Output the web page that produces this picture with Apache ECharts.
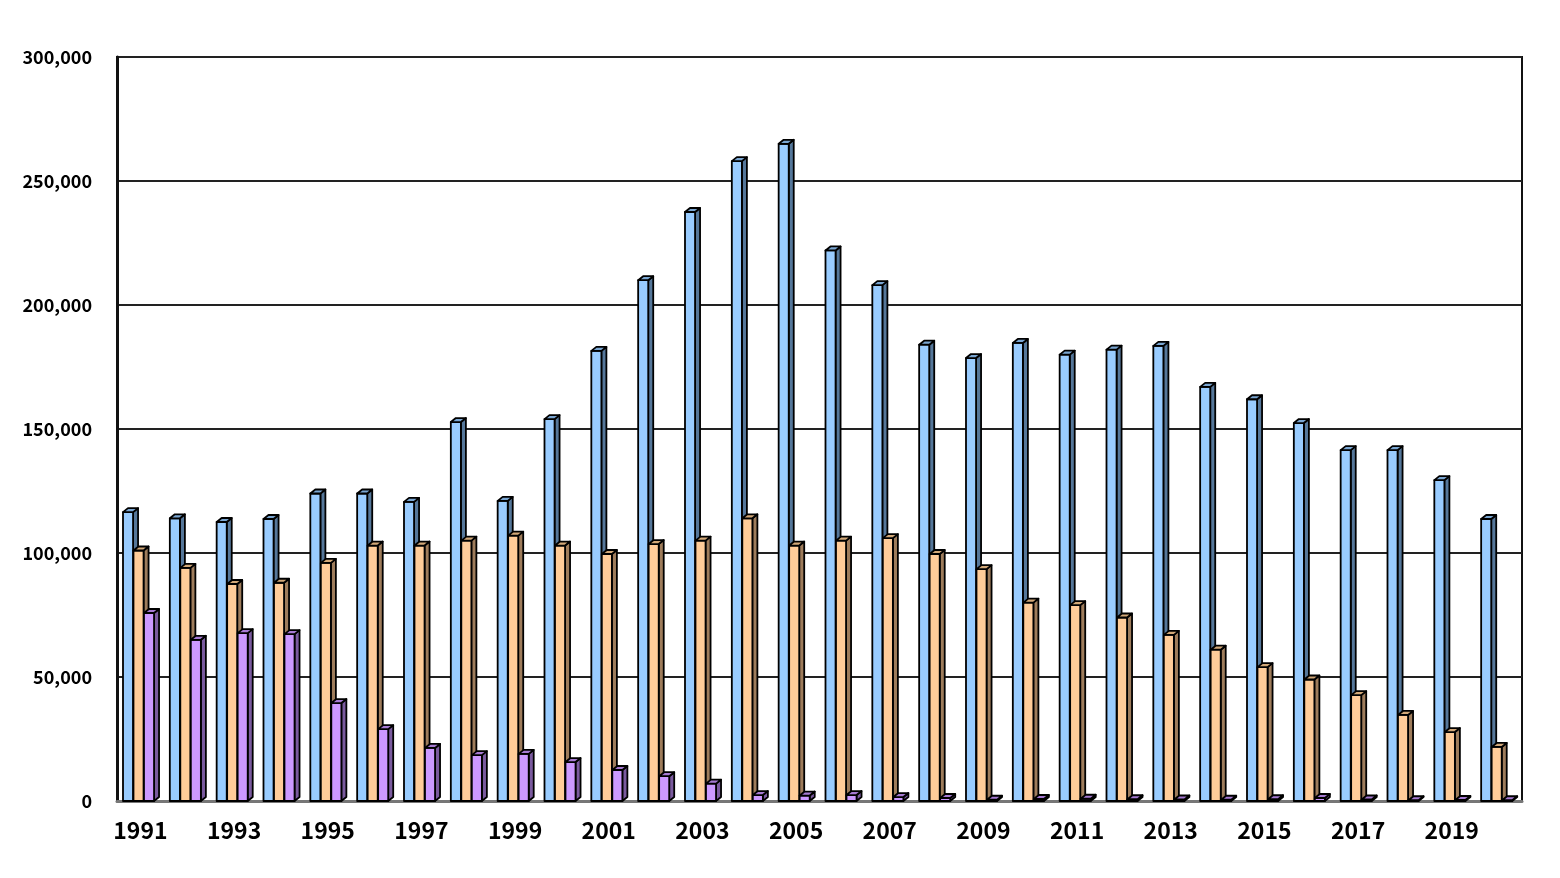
<!DOCTYPE html>
<html>
<head>
<meta charset="utf-8">
<script src="https://cdn.jsdelivr.net/npm/echarts@6/dist/echarts.min.js"></script>
<style>
  html, body { margin: 0; padding: 0; background: #fff; }
  #chart { width: 1560px; height: 878px; }
</style>
</head>
<body>
<div id="chart"></div>
<script>
const years = [];
for (let y = 1991; y <= 2020; y++) years.push(String(y));

const blueValues = [116500, 114000, 112500, 113700, 124000, 124000, 120600, 152800, 121000, 154000,
  181500, 210000, 237500, 258000, 265000, 222000, 208000, 184000, 178600, 184700,
  180000, 182000, 183500, 167000, 162000, 152400, 141500, 141500, 129400, 113700];
const orangeValues = [101000, 94000, 87500, 88000, 96000, 103000, 103000, 105000, 107000, 103000,
  99600, 103600, 105000, 114000, 103000, 105000, 106000, 99600, 93500, 80000,
  79000, 74000, 67000, 61000, 54000, 49000, 42700, 34700, 27800, 21800];
const purpleValues = [75800, 65000, 67700, 67300, 39500, 29000, 21400, 18500, 19000, 15700,
  12500, 10000, 7000, 2400, 2200, 2400, 1600, 1200, 500, 800,
  900, 700, 600, 500, 700, 1200, 600, 300, 400, 300];

const yTicks = { min: 0, max: 300000, interval: 50000 };

// front / side / top colours per series
const palette = [
  { front: '#99CCFF', side: '#55779A', top: '#7AA6D2' },
  { front: '#FFCC99', side: '#9E7C5B', top: '#D2A878' },
  { front: '#CC99FF', side: '#7A5A9E', top: '#A67AD2' }
];

function makeBar(s) {
  return function (params, api) {
    const idx = api.value(0);
    const val = api.value(1);
    const base = api.coord([idx, 0]);
    const top = api.coord([idx, val]);
    const bandW = api.size([1, 0])[0];
    const w = bandW * 0.215;
    const x0 = base[0] - bandW / 2 + bandW * (0.128 + s * 0.224);
    const dx = 5, dy = 4;
    const c = palette[s];
    const line = { stroke: '#000', lineWidth: 1.8, lineJoin: 'round' };
    return {
      type: 'group',
      children: [
        {
          type: 'polygon',
          shape: { points: [[x0 + w, top[1]], [x0 + w + dx, top[1] - dy], [x0 + w + dx, base[1] - dy], [x0 + w, base[1]]] },
          style: Object.assign({ fill: c.side }, line)
        },
        {
          type: 'rect',
          shape: { x: x0, y: top[1], width: w, height: base[1] - top[1] },
          style: Object.assign({ fill: c.front }, line)
        },
        {
          type: 'polygon',
          shape: { points: [[x0, top[1]], [x0 + dx, top[1] - dy], [x0 + w + dx, top[1] - dy], [x0 + w, top[1]]] },
          style: Object.assign({ fill: c.top }, line)
        }
      ]
    };
  };
}

function seriesData(values) {
  return values.map((v, i) => [i, v]);
}

const chart = echarts.init(document.getElementById('chart'));
chart.setOption({
  animation: false,
  backgroundColor: '#fff',
  grid: {
    left: 117, right: 38, top: 57, bottom: 77,
    show: true, borderColor: '#111', borderWidth: 2
  },
  xAxis: {
    type: 'category',
    data: years,
    boundaryGap: true,
    axisLine: { show: true, lineStyle: { color: '#777', width: 3 } },
    axisTick: { show: false },
    axisLabel: {
      interval: 1,
      color: '#000',
      fontSize: 23,
      fontWeight: 'bold',
      fontFamily: 'Noto Sans CJK JP',
      margin: 18
    }
  },
  yAxis: {
    type: 'value',
    min: yTicks.min,
    max: yTicks.max,
    interval: yTicks.interval,
    axisLine: { show: true, lineStyle: { color: '#111', width: 3 } },
    axisTick: { show: false },
    splitLine: { lineStyle: { color: '#222', width: 2 } },
    axisLabel: {
      color: '#000',
      fontSize: 18,
      fontWeight: 'bold',
      fontFamily: 'Noto Sans CJK JP',
      margin: 25,
      formatter: v => v.toLocaleString('en-US')
    }
  },
  series: [
    { type: 'custom', renderItem: makeBar(0), data: seriesData(blueValues), encode: { x: 0, y: 1 } },
    { type: 'custom', renderItem: makeBar(1), data: seriesData(orangeValues), encode: { x: 0, y: 1 } },
    { type: 'custom', renderItem: makeBar(2), data: seriesData(purpleValues), encode: { x: 0, y: 1 } }
  ]
});
</script>
</body>
</html>
